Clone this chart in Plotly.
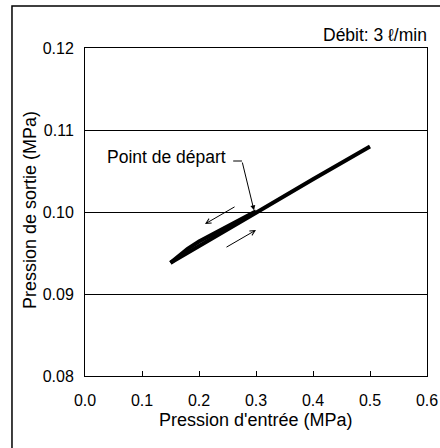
import plotly.graph_objects as go

# Data
up_x = [0.15, 0.20, 0.30, 0.40, 0.50]
up_y = [0.0938, 0.0958, 0.0999, 0.1040, 0.1080]
down_x = [0.30, 0.25, 0.20, 0.18, 0.15]
down_y = [0.1001, 0.0983, 0.0964, 0.0955, 0.0938]

x_ticks = [0.0, 0.1, 0.2, 0.3, 0.4, 0.5, 0.6]
x_tick_labels = ["0.0", "0.1", "0.2", "0.3", "0.4", "0.5", "0.6"]
y_ticks = [0.08, 0.09, 0.10, 0.11, 0.12]
y_tick_labels = ["0.08", "0.09", "0.10", "0.11", "0.12"]

FONT = "Liberation Sans, Arial, sans-serif"

fig = go.Figure()
fig.add_trace(go.Scatter(x=up_x, y=up_y, mode="lines",
                         line=dict(color="black", width=4), showlegend=False,
                         hoverinfo="skip"))
fig.add_trace(go.Scatter(x=down_x, y=down_y, mode="lines",
                         line=dict(color="black", width=4), showlegend=False,
                         hoverinfo="skip"))

fig.update_layout(
    width=440, height=448,
    margin=dict(l=85, r=13, t=48, b=72, autoexpand=False),
    paper_bgcolor="white", plot_bgcolor="white",
    font=dict(family=FONT, color="black", size=16),
    showlegend=False,
)
fig.update_xaxes(
    range=[0, 0.6], tickvals=x_ticks, ticktext=x_tick_labels,
    showgrid=False, zeroline=False, automargin=False,
    showline=True, linecolor="black", linewidth=1, mirror=True,
    ticks="inside", ticklen=5, tickcolor="black",
    tickfont=dict(size=16), ticklabelstandoff=10,
)
fig.update_yaxes(
    range=[0.08, 0.12], tickvals=y_ticks, ticktext=y_tick_labels,
    showgrid=True, gridcolor="black", gridwidth=1, zeroline=False, automargin=False,
    showline=True, linecolor="black", linewidth=1, mirror=True,
    ticks="", tickfont=dict(size=16), ticklabelstandoff=7,
)

# axis titles
fig.add_annotation(text="Pression d'entrée (MPa)", xref="paper", yref="paper",
                   x=0.5, y=-0.134, xanchor="center", yanchor="middle",
                   showarrow=False, font=dict(size=18))
fig.add_annotation(text="Pression de sortie (MPa)", xref="paper", yref="paper",
                   x=-0.161, y=0.506, xanchor="center", yanchor="middle",
                   textangle=-90, showarrow=False, font=dict(size=18))

# outer frame
fig.add_shape(type="rect", xref="paper", yref="paper",
              x0=-0.2135, x1=1.06, y0=-0.26, y1=1.128,
              line=dict(color="black", width=1.5), layer="below")

fig.add_annotation(text="Débit: 3 ℓ/min", xref="paper", yref="paper",
                   x=1.006, y=1.04, xanchor="right", yanchor="middle",
                   showarrow=False, font=dict(size=17.5))

fig.add_annotation(text="Point de départ", xref="x", yref="y",
                   x=0.035, y=0.1067, xanchor="left", yanchor="middle",
                   showarrow=False, font=dict(size=17.5))
fig.add_shape(type="line", xref="x", yref="y",
              x0=0.26, x1=0.2754, y0=0.10622, y1=0.10622,
              line=dict(color="black", width=1))
fig.add_annotation(text="", xref="x", yref="y", axref="x", ayref="y",
                   x=0.2965, y=0.1002, ax=0.2754, ay=0.10622,
                   showarrow=True, arrowhead=2, arrowsize=1, arrowwidth=1,
                   arrowcolor="black")
fig.add_annotation(text="", xref="x", yref="y", axref="x", ayref="y",
                   x=0.2105, y=0.09854, ax=0.265, ay=0.10073,
                   showarrow=True, arrowhead=5, arrowsize=1, arrowwidth=1,
                   arrowcolor="black")
fig.add_annotation(text="", xref="x", yref="y", axref="x", ayref="y",
                   x=0.300, y=0.0978, ax=0.2456, ay=0.09561,
                   showarrow=True, arrowhead=5, arrowsize=1, arrowwidth=1,
                   arrowcolor="black")

fig.write_html("out.html", config={"displayModeBar": False, "staticPlot": True},
               post_script="document.body.style.margin='0';document.body.style.overflow='hidden';")
